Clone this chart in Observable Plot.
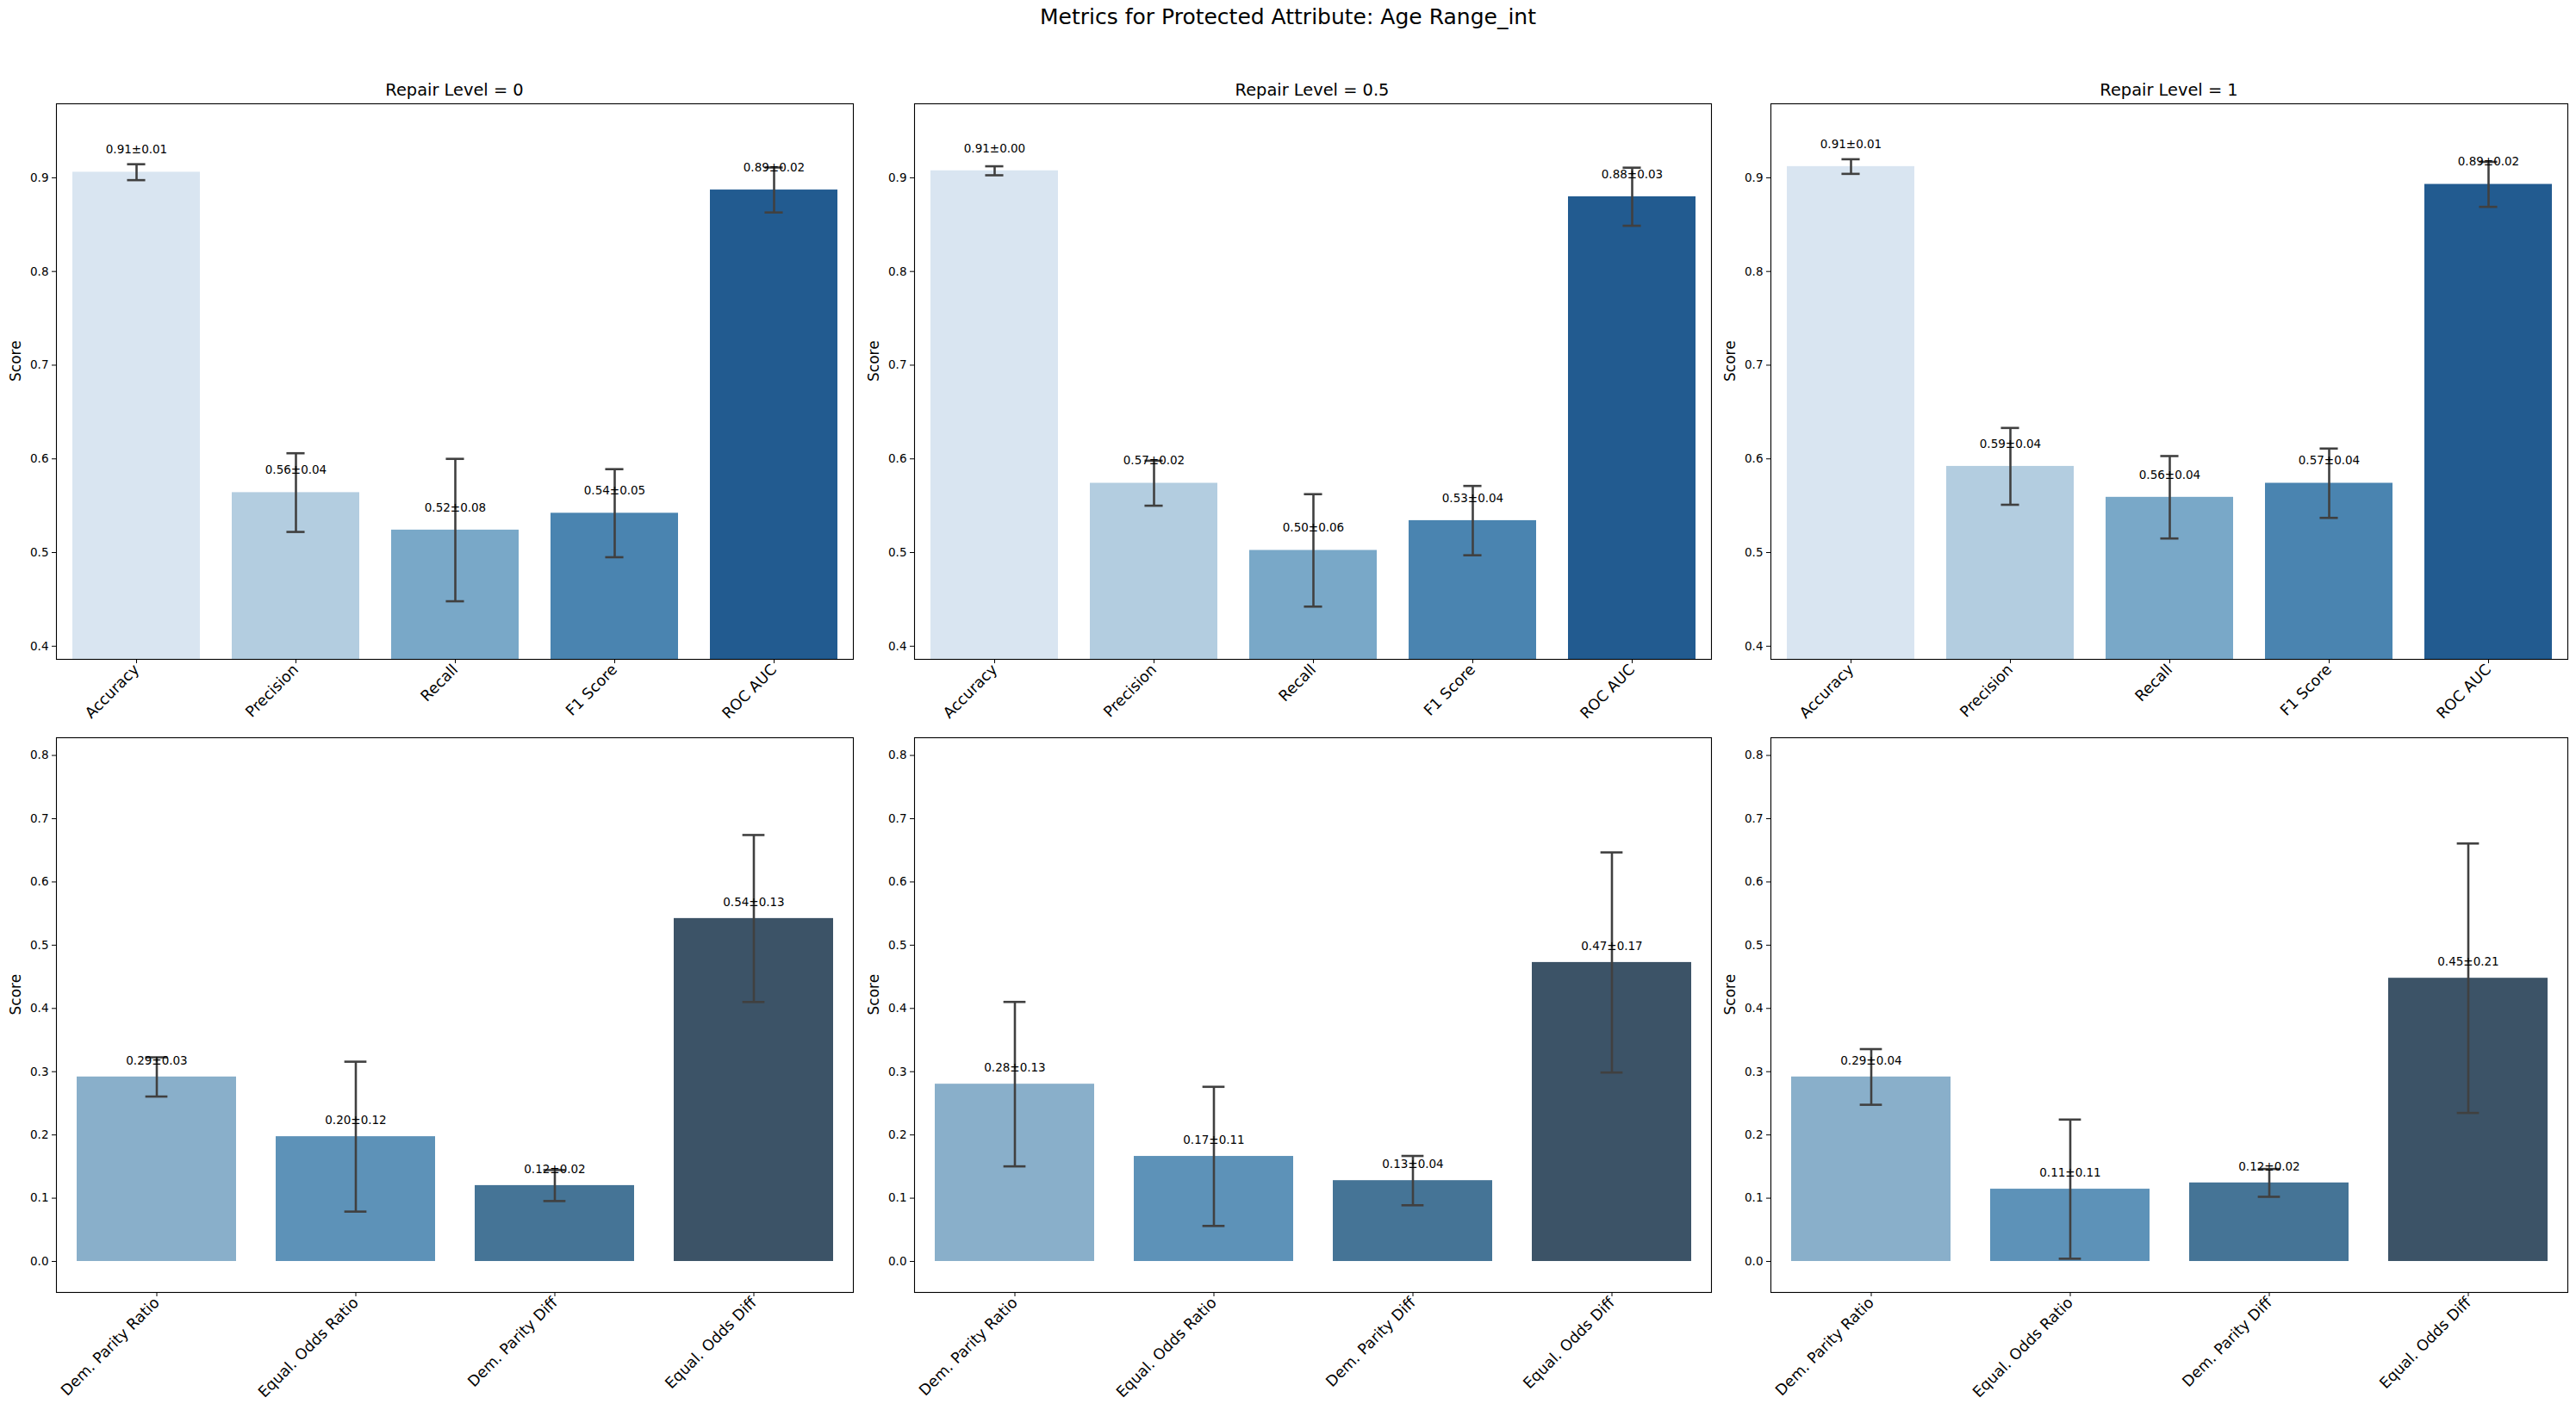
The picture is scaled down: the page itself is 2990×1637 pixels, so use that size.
<!DOCTYPE html>
<html>
<head>
<meta charset="utf-8">
<script src="https://cdn.jsdelivr.net/npm/d3@7"></script>
<script src="https://cdn.jsdelivr.net/npm/@observablehq/plot@0.6"></script>
<style>
  html, body { margin: 0; padding: 0; background: #fff; }
  #root { position: relative; width: 2990px; height: 1637px; background: #fff; font-family: "DejaVu Sans", sans-serif; overflow: hidden; }
  .title { position: absolute; left: 0; width: 2990px; text-align: center; font-size: 25px; line-height: 30px; color: #000; }
  .subtitle { position: absolute; text-align: center; font-size: 19.4px; line-height: 24px; color: #000; }
</style>
</head>
<body>
<div id="root"></div>
<script>
// ---------- data ----------
const mainTitle = "Metrics for Protected Attribute: Age Range_int";
const repairLevels = ["0", "0.5", "1"];

const perfMetrics = ["Accuracy", "Precision", "Recall", "F1 Score", "ROC AUC"];
const perfMean_r0  = [0.906, 0.564, 0.524, 0.542, 0.887];
const perfSd_r0    = [0.0085, 0.042, 0.076, 0.047, 0.024];
const perfMean_r05 = [0.9075, 0.574, 0.5023, 0.5341, 0.8798];
const perfSd_r05   = [0.0048, 0.024, 0.060, 0.037, 0.031];
const perfMean_r1  = [0.912, 0.592, 0.559, 0.574, 0.893];
const perfSd_r1    = [0.0078, 0.041, 0.044, 0.037, 0.024];

const fairMetrics = ["Dem. Parity Ratio", "Equal. Odds Ratio", "Dem. Parity Diff", "Equal. Odds Diff"];
const fairMean_r0  = [0.2917, 0.1973, 0.120, 0.5422];
const fairSd_r0    = [0.031, 0.1185, 0.0245, 0.132];
const fairMean_r05 = [0.2803, 0.1661, 0.1278, 0.4727];
const fairSd_r05   = [0.130, 0.110, 0.039, 0.174];
const fairMean_r1  = [0.2917, 0.1143, 0.1242, 0.4478];
const fairSd_r1    = [0.044, 0.110, 0.022, 0.213];

const perfColors = ["#d9e5f1", "#b3cde0", "#79a8c8", "#4a84b0", "#225b90"];
const fairColors = ["#89afca", "#5d92b8", "#457496", "#3c5367"];

const perfTicks = [0.4, 0.5, 0.6, 0.7, 0.8, 0.9];
const fairTicks = [0.0, 0.1, 0.2, 0.3, 0.4, 0.5, 0.6, 0.7, 0.8];
const perfDomain = [0.386, 0.979];
const fairDomain = [-0.049, 0.828];

// ---------- layout ----------
const root = document.getElementById("root");
const frameLefts = [65, 1060.5, 2055];
const frameW = 925;
const ML = 65, MR = 6, MT = 10;

const t = document.createElement("div");
t.className = "title"; t.textContent = mainTitle; t.style.top = "5px";
root.appendChild(t);

function table(metrics, means, sds) {
  return metrics.map((m, i) => ({metric: m, mean: means[i], sd: sds[i]}));
}

function panel({data, cats, colors, domain, ticks, frameH, mb}) {
  const step = frameW / cats.length;
  const bw = step * 0.8;
  const capW = step * 0.1 + 2.6;
  const inset = (bw - capW) / 2;
  return Plot.plot({
    width: ML + frameW + MR,
    height: MT + frameH + mb,
    marginLeft: ML, marginRight: MR, marginTop: MT, marginBottom: mb,
    style: {fontFamily: "DejaVu Sans", fontSize: "13.5px", color: "#000", background: "transparent", overflow: "visible"},
    x: {domain: cats, paddingInner: 0.2, paddingOuter: 0.1, label: null},
    y: {domain, label: null},
    color: {domain: cats, range: colors},
    marks: [
      Plot.barY(data, {x: "metric", y: "mean", fill: "metric", clip: true}),
      Plot.ruleX(data, {x: "metric", y1: d => d.mean - d.sd, y2: d => d.mean + d.sd, stroke: "#404040", strokeWidth: 2.6}),
      Plot.tickY(data, {x: "metric", y: d => d.mean - d.sd, stroke: "#404040", strokeWidth: 2.6, insetLeft: inset, insetRight: inset}),
      Plot.tickY(data, {x: "metric", y: d => d.mean + d.sd, stroke: "#404040", strokeWidth: 2.6, insetLeft: inset, insetRight: inset}),
      Plot.text(data, {x: "metric", y: d => d.mean + 0.02, text: d => `${d.mean.toFixed(2)}±${d.sd.toFixed(2)}`, lineAnchor: "bottom", fontSize: 13.5, fill: "#000"}),
      Plot.frame({stroke: "#000", strokeWidth: 1.1}),
      Plot.axisY({ticks, tickFormat: ".1f", tickSize: 5, tickPadding: 4, label: null, fontSize: 13.5}),
      Plot.axisX({tickRotate: -45, tickSize: 5, tickPadding: 4, label: null, fontSize: 17.5}),
      Plot.text(["Score"], {frameAnchor: "left", text: d => d, rotate: -90, dx: -47, fontSize: 17, fill: "#000"})
    ]
  });
}

const perfMeans = [perfMean_r0, perfMean_r05, perfMean_r1];
const perfSds = [perfSd_r0, perfSd_r05, perfSd_r1];
const fairMeans = [fairMean_r0, fairMean_r05, fairMean_r1];
const fairSds = [fairSd_r0, fairSd_r05, fairSd_r1];

for (let i = 0; i < 3; i++) {
  const st = document.createElement("div");
  st.className = "subtitle";
  st.textContent = `Repair Level = ${repairLevels[i]}`;
  st.style.left = frameLefts[i] + "px";
  st.style.width = frameW + "px";
  st.style.top = "93px";
  root.appendChild(st);

  const top = panel({data: table(perfMetrics, perfMeans[i], perfSds[i]), cats: perfMetrics, colors: perfColors,
    domain: perfDomain, ticks: perfTicks, frameH: 645, mb: 120});
  top.style.position = "absolute";
  top.style.left = (frameLefts[i] - ML) + "px";
  top.style.top = (120 - MT) + "px";
  root.appendChild(top);

  const bot = panel({data: table(fairMetrics, fairMeans[i], fairSds[i]), cats: fairMetrics, colors: fairColors,
    domain: fairDomain, ticks: fairTicks, frameH: 644, mb: 137});
  bot.style.position = "absolute";
  bot.style.left = (frameLefts[i] - ML) + "px";
  bot.style.top = (856 - MT) + "px";
  root.appendChild(bot);
}
</script>
</body>
</html>
